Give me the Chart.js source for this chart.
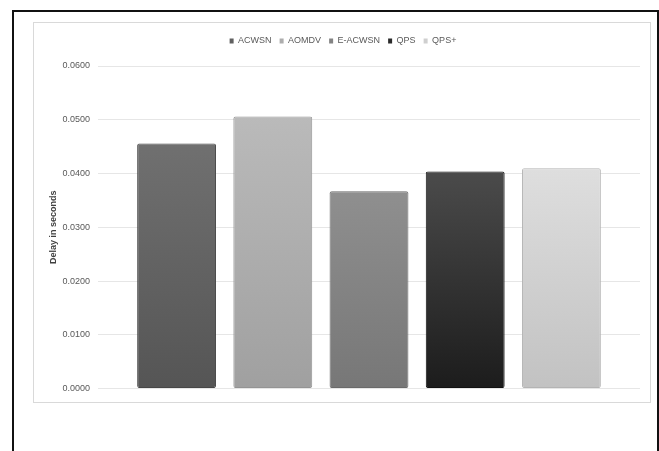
<!DOCTYPE html>
<html>
<head>
<meta charset="utf-8">
<script src="https://cdn.jsdelivr.net/npm/chart.js@4/dist/chart.umd.min.js"></script>
<style>
  html, body { margin: 0; padding: 0; background: #fff; }
  body { width: 659px; height: 451px; position: relative; overflow: hidden; }
  .frame {
    position: absolute; left: 12px; top: 10px; width: 643px; height: 460px;
    border-top: 2px solid #111; border-left: 2px solid #111; border-right: 2px solid #111;
  }
  .box {
    position: absolute; left: 33px; top: 22px; width: 616px; height: 379px;
    border: 1px solid #d9d9d9; background: #fff;
  }
  .box canvas { display: block; }
</style>
</head>
<body>
<div class="frame"></div>
<div class="box"><canvas id="c" width="616" height="379"></canvas></div>
<script>
// Average end-to-end delay per protocol (seconds)
const categories = [''];
const seriesNames = ['ACWSN', 'AOMDV', 'E-ACWSN', 'QPS', 'QPS+'];
const delays = [0.0456, 0.0506, 0.0367, 0.0404, 0.0410];
const yMin = 0, yMax = 0.06, yStep = 0.01;
const axisTitle = 'Delay in seconds';

// Per-series shading: lighter at the top of the bar, darker at the base
const topColors    = ['#707070', '#bababa', '#8f8f8f', '#4b4b4b', '#dedede'];
const bottomColors = ['#555555', '#a0a0a0', '#777777', '#1c1c1c', '#c2c2c2'];
const edgeColors   = ['#474747', '#949494', '#6a6a6a', '#111111', '#b4b4b4'];
const legendColors = ['#606060', '#adadad', '#838383', '#2a2a2a', '#cfcfcf'];

function barFill(i) {
  return function (ctx) {
    const chart = ctx.chart;
    const area = chart.chartArea;
    if (!area || ctx.raw === undefined) return bottomColors[i];
    const y = chart.scales.y;
    const yTop = y.getPixelForValue(ctx.raw);
    const g = chart.ctx.createLinearGradient(0, yTop, 0, y.getPixelForValue(0));
    g.addColorStop(0, topColors[i]);
    g.addColorStop(1, bottomColors[i]);
    return g;
  };
}

// Extra space between the legend row and the plot
const legendGap = {
  id: 'legendGap',
  beforeInit(chart) {
    const fit = chart.legend.fit;
    chart.legend.fit = function () {
      fit.bind(chart.legend)();
      this.height += 10.5;
    };
  }
};

const datasets = seriesNames.map((name, i) => ({
  label: name,
  data: [delays[i]],
  backgroundColor: barFill(i),
  borderColor: edgeColors[i],
  borderWidth: 1,
  borderRadius: 2,
  borderSkipped: false,
  categoryPercentage: 0.8875,
  barPercentage: 0.82
}));

const textFont = "'Liberation Sans', Arial, sans-serif";

new Chart(document.getElementById('c'), {
  type: 'bar',
  data: { labels: categories, datasets },
  plugins: [legendGap],
  options: {
    responsive: false,
    animation: false,
    layout: { padding: { top: 5.5, left: 12, right: 10, bottom: 13 } },
    plugins: {
      tooltip: { enabled: false },
      legend: {
        position: 'top',
        align: 'center',
        labels: {
          boxWidth: 4,
          boxHeight: 5,
          padding: 8,
          color: '#595959',
          font: { family: "'Liberation Sans Narrow', " + textFont, size: 9 },
          generateLabels(chart) {
            return chart.data.datasets.map((ds, i) => ({
              text: ds.label,
              fillStyle: legendColors[i],
              strokeStyle: legendColors[i],
              lineWidth: 0,
              fontColor: '#595959',
              datasetIndex: i,
              hidden: false
            }));
          }
        }
      }
    },
    scales: {
      x: { display: false },
      y: {
        min: yMin,
        max: yMax,
        afterFit(scale) { scale.width = 52; },
        ticks: {
          stepSize: yStep,
          padding: 8,
          color: '#595959',
          font: { family: textFont, size: 9 },
          callback: v => Number(v).toFixed(4)
        },
        grid: { color: '#e6e6e6', lineWidth: 1, drawTicks: false },
        border: { display: false },
        title: {
          display: true,
          text: axisTitle,
          color: '#404040',
          padding: { top: 2, bottom: 0 },
          font: { family: textFont, size: 9, weight: 'bold' }
        }
      }
    }
  }
});
</script>
</body>
</html>
